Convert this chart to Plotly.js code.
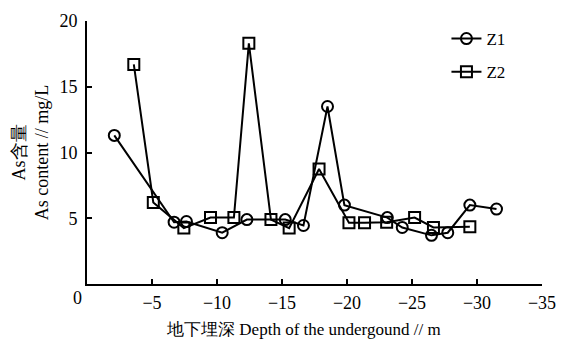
<!DOCTYPE html>
<html>
<head>
<meta charset="utf-8">
<script src="https://cdn.plot.ly/plotly-3.0.1.min.js"></script>
<style>html,body{margin:0;padding:0;background:#fff;}#chart{width:564px;height:346px;}</style>
</head>
<body>
<div id="chart"></div>
<script>
// Z1 series (circles)
const z1Depth = [-2.1, -6.7, -7.65, -10.4, -12.3, -15.25, -16.65, -18.5, -19.8, -23.1, -24.25, -26.5, -27.75, -29.45, -31.5];
const z1As    = [11.3, 4.7, 4.75, 3.9, 4.9, 4.9, 4.45, 13.5, 6.0, 5.05, 4.3, 3.7, 3.9, 6.0, 5.7];
// Z2 series (squares)
const z2Depth = [-3.6, -5.1, -7.45, -9.5, -11.3, -12.45, -14.15, -15.55, -17.85, -20.15, -21.35, -23.05, -25.2, -26.65, -29.45];
const z2As    = [16.7, 6.2, 4.25, 5.05, 5.05, 18.3, 4.9, 4.25, 8.75, 4.65, 4.65, 4.7, 5.05, 4.3, 4.35];
// axis ticks
const yTicks = [0, 5, 10, 15, 20];
const yTickText = ['', '5', '10', '15', '20'];
const xTicks = [-5, -10, -15, -20, -25, -30, -35];
const seriesNames = ['Z1', 'Z2'];

const serif = 'Liberation Serif, Times New Roman, serif';
const lineStyle = {color: '#000', width: 2};

const traces = [
  {x: z1Depth, y: z1As, name: seriesNames[0], mode: 'lines+markers', type: 'scatter',
   legendgroup: 'a', line: lineStyle,
   marker: {symbol: 'circle-open', size: 11, color: '#000', line: {width: 2, color: '#000'}}},
  {x: z2Depth, y: z2As, name: seriesNames[1], mode: 'lines+markers', type: 'scatter',
   legendgroup: 'b', line: lineStyle,
   marker: {symbol: 'square-open', size: 11, color: '#000', line: {width: 2, color: '#000'}}}
];

const layout = {
  width: 564, height: 346,
  margin: {l: 87, r: 22, t: 21, b: 62},
  paper_bgcolor: '#fff', plot_bgcolor: '#fff',
  font: {family: serif, color: '#000', size: 18},
  showlegend: true,
  legend: {x: 0.79, y: 1.0, xanchor: 'left', yanchor: 'top', bgcolor: 'rgba(0,0,0,0)',
           font: {family: serif, size: 17, color: '#000'}, traceorder: 'grouped', tracegroupgap: 8},
  xaxis: {range: [0, -35], tickvals: xTicks, ticks: 'inside', ticklen: 5, tickwidth: 2, tickcolor: '#000',
          showline: true, linecolor: '#000', linewidth: 2, showgrid: false, zeroline: false,
          ticklabelstandoff: 1, tickfont: {family: serif, size: 18, color: '#000'},
          title: {text: '地下埋深 Depth of the undergound // m&nbsp;&nbsp;&nbsp;&nbsp;&nbsp;', font: {family: serif, size: 17, color: '#000'}, standoff: 12}},
  yaxis: {range: [0, 20], tickvals: yTicks, ticktext: yTickText, ticks: 'inside', ticklen: 5, tickwidth: 2, tickcolor: '#000',
          showline: true, linecolor: '#000', linewidth: 2, showgrid: false, zeroline: false,
          ticklabelstandoff: 4, tickfont: {family: serif, size: 18, color: '#000'},
          title: {text: 'As含量<br>As content // mg/L', font: {family: serif, size: 18, color: '#000'}, standoff: 6}},
  annotations: [
    {xref: 'paper', yref: 'paper', x: 0, y: 0, xanchor: 'right', yanchor: 'top', xshift: -3, yshift: -2,
     text: '0', showarrow: false, font: {family: serif, size: 18, color: '#000'}}
  ]
};

Plotly.newPlot('chart', traces, layout, {displayModeBar: false, staticPlot: true});
</script>
</body>
</html>
